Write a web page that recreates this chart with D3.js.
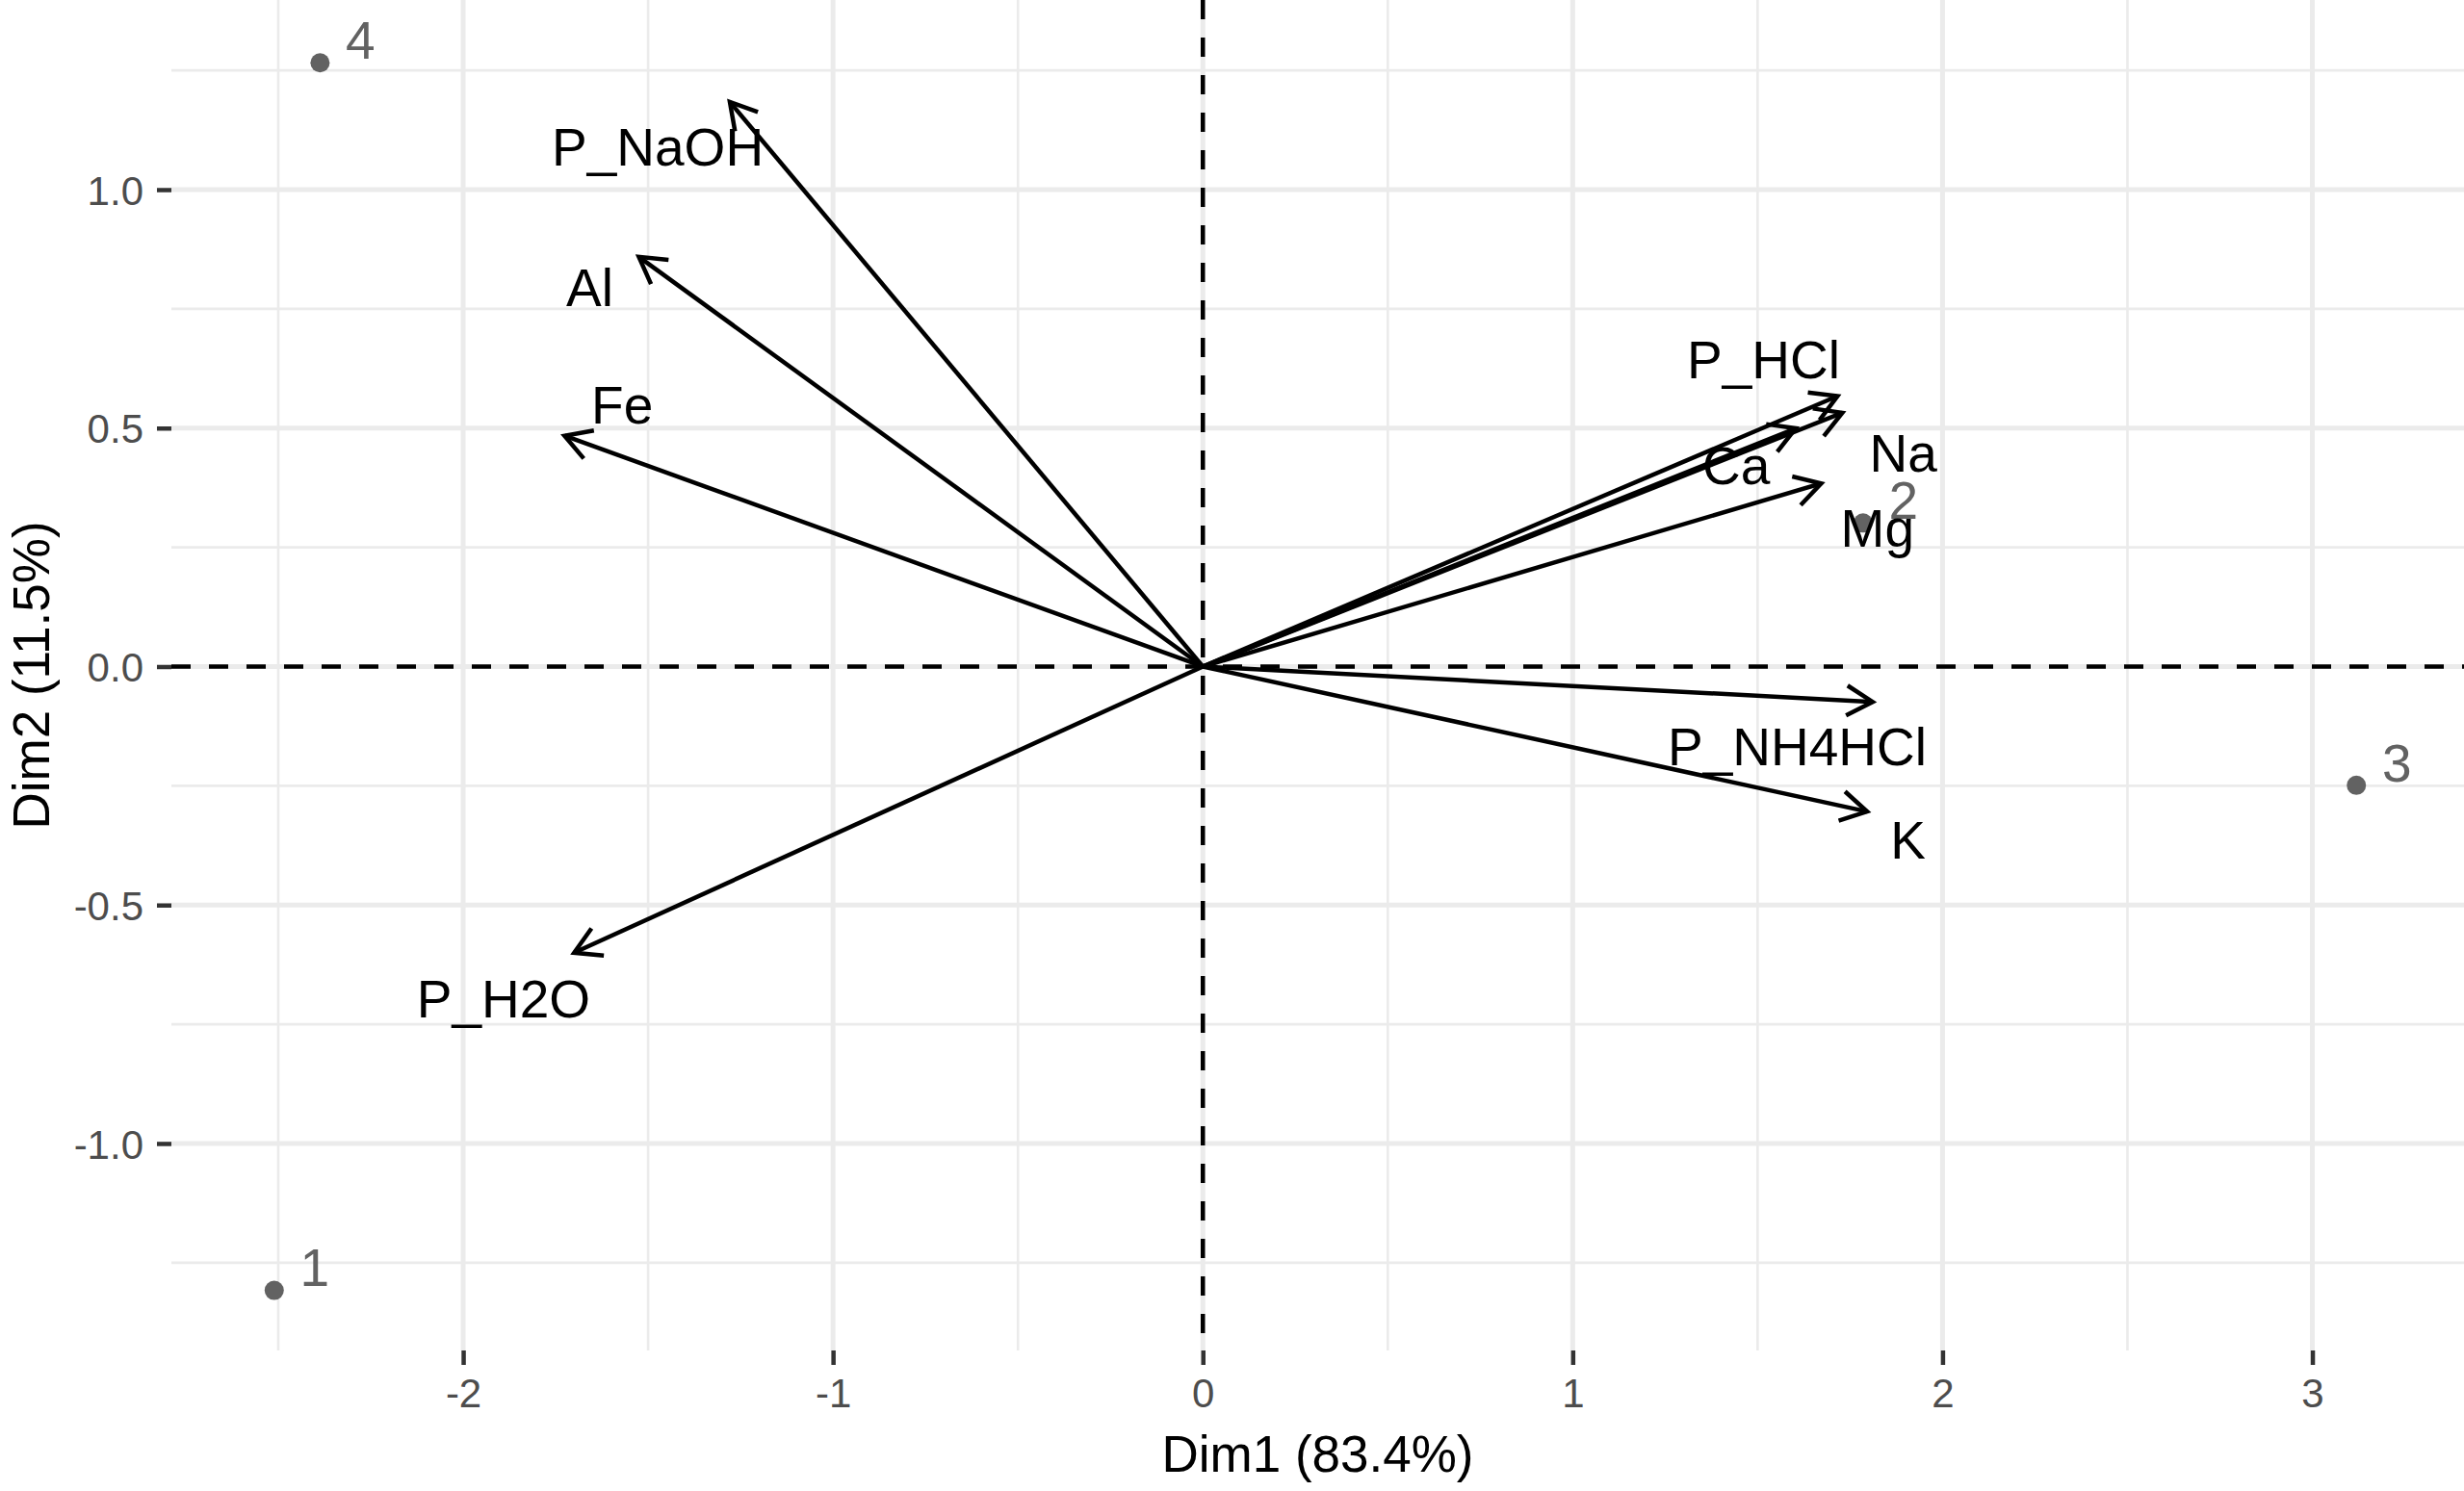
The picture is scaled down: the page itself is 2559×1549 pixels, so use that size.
<!DOCTYPE html>
<html>
<head>
<meta charset="utf-8">
<script src="https://cdn.jsdelivr.net/npm/d3@7"></script>
<style>
  body { margin: 0; background: #fff; }
  text { font-family: "Liberation Sans", Arial, sans-serif; }
</style>
</head>
<body>
<div id="chart"></div>
<script>
// variables (arrows)
var varNames = ["P_NaOH", "Al", "Fe", "P_H2O", "P_HCl", "Na", "Ca", "Mg", "P_NH4HCl", "K"];
var varDim1 = [-1.279, -1.525, -1.726, -1.700, 1.716, 1.729, 1.603, 1.672, 1.811, 1.796];
var varDim2 = [1.184, 0.859, 0.484, -0.600, 0.567, 0.532, 0.4995, 0.384, -0.074, -0.304];
// where the (repelled) variable labels sit
var labDim1 = [-1.474, -1.658, -1.570, -1.891, 1.516, 1.894, 1.442, 1.824, 1.607, 1.907];
var labDim2 = [1.091, 0.796, 0.550, -0.695, 0.644, 0.449, 0.422, 0.291, -0.1665, -0.362];

// individuals
var indNames = ["1", "2", "3", "4"];
var indDim1 = [-2.511, 1.785, 3.119, -2.387];
var indDim2 = [-1.308, 0.301, -0.249, 1.266];

var xTicks = [-2, -1, 0, 1, 2, 3];
var xMinor = [-2.5, -1.5, -0.5, 0.5, 1.5, 2.5];
var yTicks = [-1.0, -0.5, 0.0, 0.5, 1.0];
var yMinor = [-1.25, -0.75, -0.25, 0.25, 0.75, 1.25];

var W = 2559, H = 1549;
var margin = {top: 0, right: 0, bottom: 146, left: 178};
var pw = W - margin.left - margin.right;
var ph = H - margin.top - margin.bottom;

var x = d3.scaleLinear().domain([-2.789, 3.410]).range([0, pw]);
var y = d3.scaleLinear().domain([-1.434, 1.3976]).range([ph, 0]);

var svg = d3.select("#chart").append("svg")
    .attr("width", W)
    .attr("height", H)
    .style("background", "#fff");

var g = svg.append("g")
    .attr("transform", `translate(${margin.left},${margin.top})`);

// grid
var grid = g.append("g");
grid.selectAll(".xminor").data(xMinor).enter().append("line")
    .attr("x1", d => x(d)).attr("x2", d => x(d))
    .attr("y1", 0).attr("y2", ph)
    .attr("stroke", "#ebebeb").attr("stroke-width", 2.6);
grid.selectAll(".yminor").data(yMinor).enter().append("line")
    .attr("y1", d => y(d)).attr("y2", d => y(d))
    .attr("x1", 0).attr("x2", pw)
    .attr("stroke", "#ebebeb").attr("stroke-width", 2.6);
grid.selectAll(".xmajor").data(xTicks).enter().append("line")
    .attr("x1", d => x(d)).attr("x2", d => x(d))
    .attr("y1", 0).attr("y2", ph)
    .attr("stroke", "#ebebeb").attr("stroke-width", 5);
grid.selectAll(".ymajor").data(yTicks).enter().append("line")
    .attr("y1", d => y(d)).attr("y2", d => y(d))
    .attr("x1", 0).attr("x2", pw)
    .attr("stroke", "#ebebeb").attr("stroke-width", 5);

// axes
var xAxis = g.append("g")
    .attr("transform", `translate(0,${ph})`)
    .call(d3.axisBottom(x).tickValues(xTicks).tickSize(15).tickPadding(12).tickFormat(d3.format("d")));
var yAxis = g.append("g")
    .call(d3.axisLeft(y).tickValues(yTicks).tickSize(15).tickPadding(14).tickFormat(d3.format(".1f")));
[xAxis, yAxis].forEach(a => {
    a.select(".domain").remove();
    a.selectAll(".tick line").attr("stroke", "#333").attr("stroke-width", 4.5);
    a.selectAll(".tick text")
        .attr("fill", "#4d4d4d")
        .style("font-size", "42px")
        .style("font-family", '"Liberation Sans", Arial, sans-serif');
});
yAxis.selectAll(".tick text").attr("dy", "0.36em");
xAxis.selectAll(".tick text").attr("dy", "0.75em");
// d3 puts a U+2212 minus; ggplot prints a hyphen
xAxis.selectAll(".tick text").text(d => String(d));
yAxis.selectAll(".tick text").text(d => d.toFixed(1));

// reference lines at 0
g.append("line")
    .attr("x1", 0).attr("x2", pw)
    .attr("y1", y(0)).attr("y2", y(0))
    .attr("stroke", "#000").attr("stroke-width", 4.5)
    .attr("stroke-dasharray", "20,19");
g.append("line")
    .attr("x1", x(0)).attr("x2", x(0))
    .attr("y1", 0).attr("y2", ph)
    .attr("stroke", "#000").attr("stroke-width", 4.5)
    .attr("stroke-dasharray", "20,19");

// individuals
var inds = indNames.map((n, i) => ({name: n, d1: indDim1[i], d2: indDim2[i]}));
g.selectAll(".ind").data(inds).enter().append("circle")
    .attr("cx", d => x(d.d1)).attr("cy", d => y(d.d2))
    .attr("r", 10)
    .attr("fill", "#626262");
g.selectAll(".indlab").data(inds).enter().append("text")
    .attr("x", d => x(d.d1) + 42).attr("y", d => y(d.d2) - 24)
    .attr("dy", "0.36em")
    .attr("text-anchor", "middle")
    .attr("fill", "#626262")
    .style("font-size", "55px")
    .text(d => d.name);

// variable arrows
var vars = varNames.map((n, i) => ({name: n, d1: varDim1[i], d2: varDim2[i], l1: labDim1[i], l2: labDim2[i]}));
var headLen = 31, headAng = Math.PI / 6;
var arrows = g.selectAll(".var").data(vars).enter().append("g");
arrows.append("line")
    .attr("x1", x(0)).attr("y1", y(0))
    .attr("x2", d => x(d.d1)).attr("y2", d => y(d.d2))
    .attr("stroke", "#000").attr("stroke-width", 4.5);
arrows.append("path")
    .attr("d", d => {
        var tx = x(d.d1), ty = y(d.d2);
        var a = Math.atan2(ty - y(0), tx - x(0));
        var p1 = [tx - headLen * Math.cos(a - headAng), ty - headLen * Math.sin(a - headAng)];
        var p2 = [tx - headLen * Math.cos(a + headAng), ty - headLen * Math.sin(a + headAng)];
        return `M${p1[0]},${p1[1]}L${tx},${ty}L${p2[0]},${p2[1]}`;
    })
    .attr("fill", "none")
    .attr("stroke", "#000").attr("stroke-width", 4.5);

g.selectAll(".varlab").data(vars).enter().append("text")
    .attr("x", d => x(d.l1)).attr("y", d => y(d.l2))
    .attr("dy", "0.36em")
    .attr("text-anchor", "middle")
    .attr("fill", "#000")
    .style("font-size", "55px")
    .text(d => d.name);

// axis titles
svg.append("text")
    .attr("x", margin.left + pw / 2).attr("y", 1510)
    .attr("dy", "0.36em")
    .attr("text-anchor", "middle")
    .style("font-size", "53px")
    .text("Dim1 (83.4%)");
svg.append("text")
    .attr("transform", `translate(32,${margin.top + ph / 2}) rotate(-90)`)
    .attr("dy", "0.36em")
    .attr("text-anchor", "middle")
    .style("font-size", "53px")
    .text("Dim2 (11.5%)");
</script>
</body>
</html>
